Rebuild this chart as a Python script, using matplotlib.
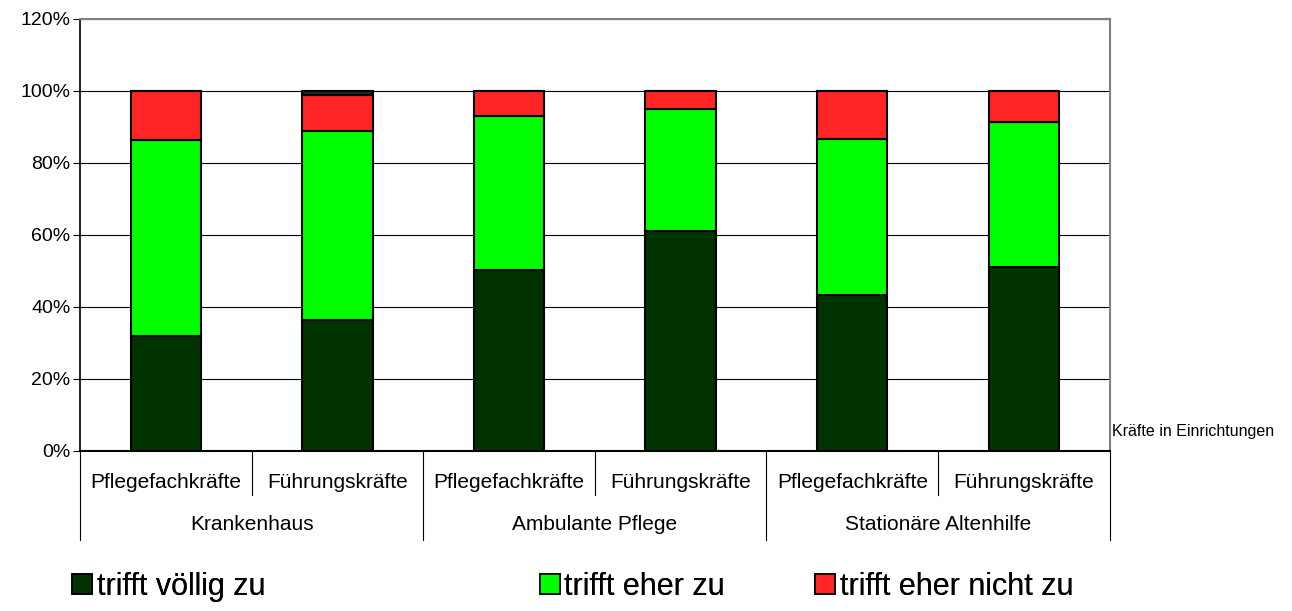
import matplotlib
matplotlib.use("Agg")
import matplotlib.pyplot as plt
from matplotlib.patches import Patch
from matplotlib.ticker import PercentFormatter

plt.rcParams['font.family'] = ['Liberation Sans', 'DejaVu Sans']

# --------------------------------------------------
# Data (percent)
# --------------------------------------------------
groups = ["Krankenhaus", "Ambulante Pflege", "Stationäre Altenhilfe"]
subgroups = ["Pflegefachkräfte", "Führungskräfte"]

voellig = [32.0, 36.4, 50.3, 61.1, 43.3, 51.1]
eher = [54.4, 52.4, 42.7, 34.0, 43.4, 40.4]
eher_nicht = [13.6, 10.1, 7.0, 4.9, 13.3, 8.5]
rest = [0.0, 1.1, 0.0, 0.0, 0.0, 0.0]

series = [
    ("trifft völlig zu", voellig, "#003300"),
    ("trifft eher zu", eher, "#00ff00"),
    ("trifft eher nicht zu", eher_nicht, "#ff2525"),
]


def main():
    fig = plt.figure(figsize=(12.92, 6.11), dpi=100)
    ax = fig.add_axes([0.0619, 0.262, 0.797, 0.707])

    n = len(voellig)
    x = list(range(n))
    bottom = [0.0] * n
    for label, vals, color in series + [("", rest, "#1f2a24")]:
        ax.bar(x, vals, bottom=bottom, width=0.41, color=color,
               edgecolor="black", linewidth=1.5, zorder=3)
        bottom = [b + v for b, v in zip(bottom, vals)]

    ax.set_xlim(-0.5, n - 0.5)
    ax.set_ylim(0, 120)
    ax.set_yticks(range(0, 121, 20))
    ax.yaxis.set_major_formatter(PercentFormatter(decimals=0))
    ax.tick_params(axis="y", labelsize=14, length=5, width=0.8, pad=2)
    ax.set_xticks([])
    ax.yaxis.grid(True, color="black", linewidth=0.8, zorder=0)

    for side in ["top", "right"]:
        ax.spines[side].set_color("#808080")
        ax.spines[side].set_linewidth(1.5)
    ax.spines["left"].set_linewidth(1.2)
    ax.spines["bottom"].set_linewidth(1.5)

    # category labels below the axis
    tr = ax.get_xaxis_transform()
    for i in range(n):
        ax.text(i, -0.072, subgroups[i % 2], transform=tr, ha="center",
                va="center", fontsize=15)
    for g, name in enumerate(groups):
        ax.text(2 * g + 0.5, -0.171, name, transform=tr, ha="center",
                va="center", fontsize=15)
    for g in range(len(groups)):
        ax.plot([2 * g + 0.5] * 2, [0, -0.102], transform=tr,
                color="black", linewidth=0.8, clip_on=False)
    for g in range(len(groups) + 1):
        ax.plot([2 * g - 0.5] * 2, [0, -0.206], transform=tr,
                color="black", linewidth=0.8, clip_on=False)

    ax.text(1.002, 0.045, "Kräfte in Einrichtungen", transform=ax.transAxes,
            ha="left", va="center", fontsize=11.5)

    # legend, one entry each
    legend_x = [0.0465, 0.4085, 0.6215]
    for (label, vals, color), lx in zip(series, legend_x):
        leg = fig.legend(handles=[Patch(facecolor=color, edgecolor="black",
                                        linewidth=1.2, label=label)],
                         loc="center left", bbox_to_anchor=(lx, 0.04),
                         frameon=False, fontsize=22, handlelength=0.65,
                         handleheight=0.65, handletextpad=0.15,
                         borderaxespad=0)
        fig.add_artist(leg)

    fig.savefig("out.png", dpi=100)


if __name__ == "__main__":
    main()
